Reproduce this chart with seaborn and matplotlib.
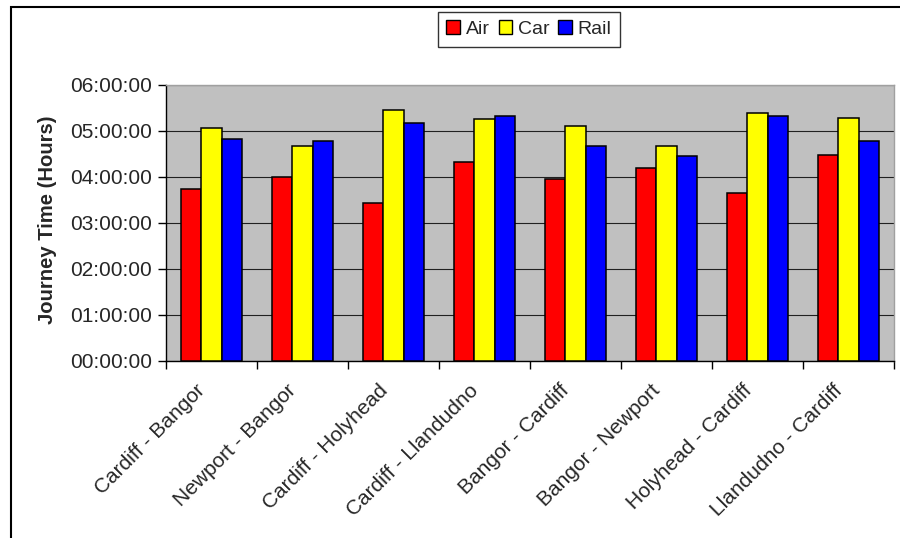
import matplotlib
matplotlib.use("Agg")
import matplotlib.pyplot as plt
from matplotlib.ticker import FuncFormatter, FixedLocator, NullFormatter
from matplotlib.patches import Rectangle
from matplotlib.transforms import ScaledTranslation
import seaborn as sns
import pandas as pd

routes = ["Cardiff - Bangor", "Newport - Bangor", "Cardiff - Holyhead",
          "Cardiff - Llandudno", "Bangor - Cardiff", "Bangor - Newport",
          "Holyhead - Cardiff", "Llandudno - Cardiff"]
modes = ["Air", "Car", "Rail"]
# journey times in minutes
air_minutes = [225, 240, 206, 259, 238, 252, 219, 269]
car_minutes = [304, 280, 328, 316, 307, 280, 324, 317]
rail_minutes = [290, 287, 310, 320, 280, 267, 320, 287]
mode_colors = ["#FF0000", "#FFFF00", "#0000FF"]
y_ticks = [0, 1, 2, 3, 4, 5, 6]

rows = []
for mode, vals in zip(modes, [air_minutes, car_minutes, rail_minutes]):
    for route, v in zip(routes, vals):
        rows.append({"Route": route, "Mode": mode, "Hours": v / 60.0})
df = pd.DataFrame(rows)

sns.set_style("white")
plt.rcParams["font.family"] = ["Liberation Sans", "DejaVu Sans"]

fig = plt.figure(figsize=(9, 5.38), dpi=100)
ax = fig.add_axes([166 / 900, 1 - 361 / 538, (894 - 166) / 900, (361 - 85) / 538])
ax.set_facecolor("#C0C0C0")

sns.barplot(data=df, x="Route", y="Hours", hue="Mode", order=routes,
            hue_order=modes, palette=mode_colors, width=0.67, gap=0,
            edgecolor="black", linewidth=1.1, saturation=1, ax=ax,
            errorbar=None, zorder=3)

ax.set_ylim(0, 6)
ax.set_xlim(-0.5, len(routes) - 0.5)
ax.yaxis.set_major_locator(FixedLocator(y_ticks))
ax.yaxis.set_major_formatter(
    FuncFormatter(lambda v, p: "%02d:%02d:%02d" % (int(v), int(round(v * 60)) % 60, 0)))
ax.grid(axis="y", color="#202020", linewidth=0.8, zorder=1)
ax.set_axisbelow(True)

# tick marks sit between route groups, labels at group centres
ax.set_xticks(range(len(routes)))
ax.set_xticklabels(routes, rotation=45, ha="right", va="center",
                   rotation_mode="anchor", fontsize=15)
ax.xaxis.set_minor_locator(FixedLocator([i - 0.5 for i in range(len(routes) + 1)]))
ax.xaxis.set_minor_formatter(NullFormatter())
ax.tick_params(axis="x", which="major", length=0, pad=19)
ax.tick_params(axis="x", which="minor", length=6, width=1, color="black",
               direction="out", bottom=True)
ax.tick_params(axis="y", length=6, width=1, color="black", direction="out",
               left=True, labelsize=15, pad=4)
shift = ScaledTranslation(-0.09, 0, fig.dpi_scale_trans)
for lab in ax.xaxis.get_majorticklabels():
    lab.set_transform(lab.get_transform() + shift)

for side in ["left", "bottom"]:
    ax.spines[side].set_color("black")
    ax.spines[side].set_linewidth(1.0)
for side in ["top", "right"]:
    ax.spines[side].set_color("#A0A0A0")
    ax.spines[side].set_linewidth(1.0)

ax.set_xlabel("")
ax.set_ylabel("Journey Time (Hours)", fontsize=14.6, fontweight="bold")
ax.yaxis.set_label_coords((57 - 166) / 728, 0.51)

leg = ax.legend(loc="upper center", bbox_to_anchor=(529 / 900, 1 - 11.5 / 538),
                bbox_transform=fig.transFigure, ncol=3, frameon=True,
                fancybox=False, fontsize=14, handlelength=0.7,
                handleheight=0.7, handletextpad=0.3, columnspacing=0.45,
                borderpad=0.45, borderaxespad=0)
leg.get_frame().set_edgecolor("black")
leg.get_frame().set_linewidth(1.0)
for h in leg.legend_handles:
    h.set_edgecolor("black")
    h.set_linewidth(1.0)

# outer chart frame, open on the right and bottom
fig.patches.append(Rectangle((11 / 900, -0.2), 2.0, 1.2 - 6.5 / 538,
                             transform=fig.transFigure, fill=False,
                             edgecolor="black", linewidth=1.5))

fig.savefig("out.png", dpi=100)
